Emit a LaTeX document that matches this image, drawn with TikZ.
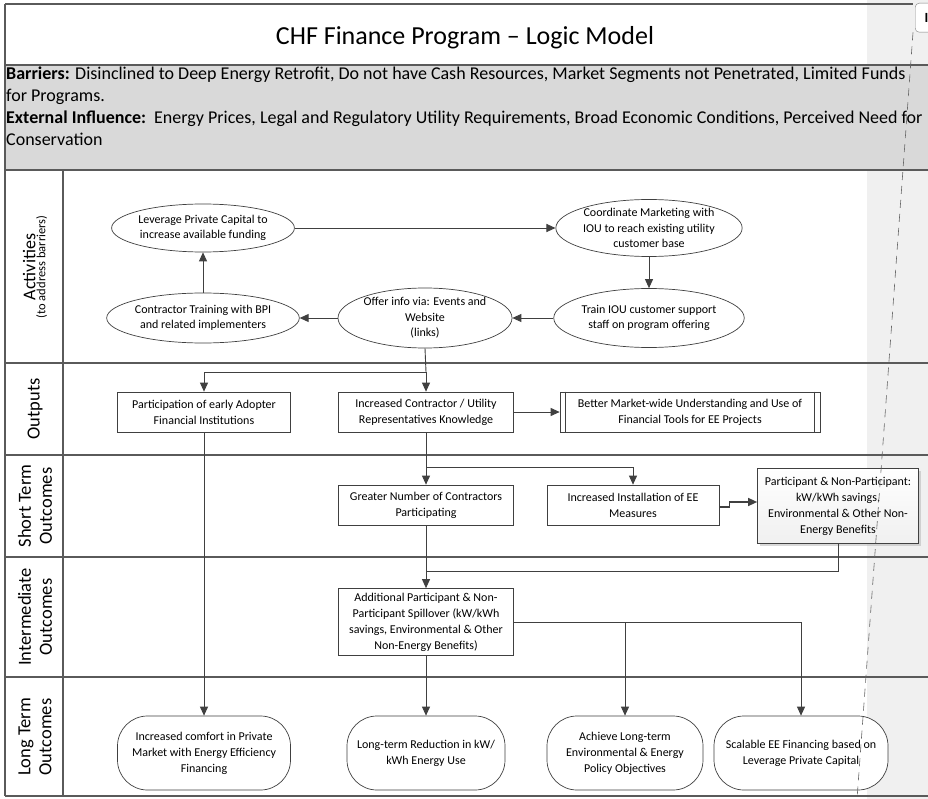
\documentclass[tikz,border=0pt]{standalone}
\usepackage{fontspec}
\setmainfont{Carlito}
\usetikzlibrary{arrows.meta,shapes.geometric,shadows,calc}
\definecolor{linec}{HTML}{5A5A5A}
\definecolor{boxc}{HTML}{404040}
\definecolor{hdrgray}{HTML}{D9D9D9}
\definecolor{sidegray}{HTML}{F0F0F0}
\begin{document}
\begin{tikzpicture}[x=1pt,y=-1pt,
  lane/.style={draw=linec,line width=1.4pt},
  actnode/.style={ellipse,draw=boxc,line width=0.7pt,inner sep=0pt,align=center,
    font=\fontsize{12}{15.5}\selectfont,fill=white},
  recnode/.style={rectangle,draw=boxc,line width=0.7pt,inner sep=0pt,align=center,
    font=\fontsize{12}{16}\selectfont,fill=white},
  termnode/.style={rectangle,rounded corners=30pt,draw=boxc,line width=0.7pt,inner sep=0pt,align=center,
    font=\fontsize{12}{16}\selectfont,fill=white,minimum height=74pt},
  lanelabel/.style={rotate=90,align=center,font=\fontsize{18.5}{21}\selectfont},
  hdrtext/.style={anchor=base west,inner sep=0pt,font=\fontsize{18}{20}\selectfont},
  conn/.style={draw=boxc,line width=0.9pt},
  arr/.style={conn,-{Triangle[length=9pt,width=8pt]}},
]
\useasboundingbox (0,0) rectangle (928,799);
\clip (0,0) rectangle (928,799);
% backgrounds
\fill[white] (0,0) rectangle (928,799);
\fill[sidegray] (867,0) rectangle (928,799);
\fill[hdrgray] (5,65) rectangle (928,170);
% frame and lanes
\draw[lane] (5,4) -- (913,4);
\draw[lane] (5,4) -- (5,796);
\draw[lane] (5,65) -- (928,65);
\draw[lane] (5,170) -- (928,170);
\draw[lane] (5,363) -- (928,363);
\draw[lane] (5,455) -- (928,455);
\draw[lane] (5,557) -- (928,557);
\draw[lane] (5,677) -- (928,677);
\draw[lane] (5,796) -- (928,796);
\draw[lane] (63,170) -- (63,796);

% title and header
\node[font=\fontsize{26}{30}\selectfont] (title) at (465,38) {CHF Finance Program – Logic Model};
\node[hdrtext] (h1) at (6,80)
  {\textbf{Barriers:} Disinclined to Deep Energy Retrofit, Do not have Cash Resources, Market Segments not Penetrated, Limited Funds};
\node[hdrtext] (h2) at (6,102) {for Programs.};
\node[hdrtext] (h3) at (6,124)
  {\textbf{External Influence:}\ \ Energy Prices, Legal and Regulatory Utility Requirements, Broad Economic Conditions, Perceived Need for};
\node[hdrtext] (h4) at (6,146) {Conservation};

% callout at top right
\node[draw=gray,rounded corners=4pt,fill=white,anchor=north west,minimum width=40pt,minimum height=29pt,inner sep=0pt] (cb) at (915,3) {};
\node[anchor=west,inner sep=0pt,font=\fontsize{14}{16}\selectfont\bfseries] (cbt) at (924.5,18) {I};

% lane labels
\node[rotate=90,align=center] (lA) at (35,267)
  {{\fontsize{18}{20}\selectfont Activities}\\[-2pt]{\fontsize{12.5}{14}\selectfont (to address barriers)}};
\node[lanelabel] (lO) at (35,409) {Outputs};
\node[lanelabel] (lS) at (35,506) {Short Term\\Outcomes};
\node[lanelabel] (lI) at (35,617) {Intermediate\\Outcomes};
\node[lanelabel] (lL) at (35,737) {Long Term\\Outcomes};

% activities
\node[actnode,minimum width=176pt,minimum height=48pt] (E1) at (203,228)
  {Leverage Private Capital to\\increase available funding};
\node[actnode,minimum width=176pt,minimum height=57pt] (E2) at (649,228)
  {Coordinate Marketing with\\IOU to reach existing utility\\customer base};
\node[actnode,minimum width=176pt,minimum height=59pt] (E3) at (649,318)
  {Train IOU customer support\\staff on program offering};
\node[actnode,minimum width=174pt,minimum height=60pt] (E4) at (425,318)
  {Offer info via: Events and\\Website\\(links)};
\node[actnode,minimum width=176pt,minimum height=50pt] (E5) at (203,318)
  {Contractor Training with BPI\\and related implementers};

% outputs
\node[recnode,minimum width=173pt,minimum height=40pt] (O1) at (204,412)
  {Participation of early Adopter\\Financial Institutions};
\node[recnode,minimum width=175pt,minimum height=40pt] (O2) at (426,412)
  {Increased Contractor / Utility\\Representatives Knowledge};
\node[recnode,minimum width=260pt,minimum height=40pt] (O3) at (690,412)
  {Better Market-wide Understanding and Use of\\Financial Tools for EE Projects};
\draw[boxc,line width=0.7pt] ([xshift=6pt]O3.north west) -- ([xshift=6pt]O3.south west);
\draw[boxc,line width=0.7pt] ([xshift=-6pt]O3.north east) -- ([xshift=-6pt]O3.south east);

% short term
\node[recnode,minimum width=175pt,minimum height=40pt] (S1) at (426,505)
  {Greater Number of Contractors\\Participating};
\node[recnode,minimum width=172pt,minimum height=40pt] (S2) at (633,505)
  {Increased Installation of EE\\Measures};
\node[recnode,minimum width=161pt,minimum height=75pt,top color=white,bottom color=gray!12,
  drop shadow={shadow xshift=2pt,shadow yshift=-2pt,fill=gray!60}] (S3) at (838,506)
  {Participant \& Non-Participant:\\kW/kWh savings,\\Environmental \& Other Non-\\Energy Benefits};

% intermediate
\node[recnode,minimum width=175pt,minimum height=67pt] (I1) at (426,622)
  {Additional Participant \& Non-\\Participant Spillover (kW/kWh\\savings, Environmental \& Other\\Non-Energy Benefits)};

% long term
\node[termnode,minimum width=173pt] (L1) at (204,753)
  {Increased comfort in Private\\Market with Energy Efficiency\\Financing};
\node[termnode,minimum width=158pt] (L2) at (426,753)
  {Long-term Reduction in kW/\\kWh Energy Use};
\node[termnode,minimum width=156pt] (L3) at (625,753)
  {Achieve Long-term\\Environmental \& Energy\\Policy Objectives};
\node[termnode,minimum width=174pt] (L4) at (801,753)
  {Scalable EE Financing based on\\Leverage Private Capital};

% connectors
\coordinate (b1) at (426,372);
\coordinate (b2) at (426,467);
\coordinate (b3) at (426,571);
\draw[arr] (E1.east) -- (E2.west);
\draw[arr] (E2.south) -- (E3.north);
\draw[arr] (E3.west) -- (E4.east);
\draw[arr] (E4.west) -- (E5.east);
\draw[arr] (E5.north) -- (E1.south);
\draw[conn] (E4.south) -- (b1);
\draw[arr] (b1) -| (O1.north);
\draw[arr] (b1) -- (O2.north);
\draw[arr] (O2.east) -- (O3.west);
\draw[conn] (O2.south) -- (b2);
\draw[arr] (b2) -- (S1.north);
\draw[arr] (b2) -| (S2.north);
\draw[arr,line width=1.4pt] ([yshift=-2pt]S2.east) -- ++(10,0) |- ([yshift=4pt]S3.west);
\draw[conn] (S3.south) |- (b3);
\draw[arr] (S1.south) -- (I1.north);
\draw[arr] (O1.south) -- (L1.north);
\draw[arr] (I1.south) -- (L2.north);
\draw[arr] (I1.east) -| (L4.north);
\draw[arr] (I1.east -| L3.north) -- (L3.north);

% dashed guide
\coordinate (dEnd) at (857,799);
\draw[gray!80!black,line width=0.6pt,dash pattern=on 8pt off 6pt] ([xshift=-2pt]cb.south west) -- (dEnd);
\end{tikzpicture}
\end{document}
